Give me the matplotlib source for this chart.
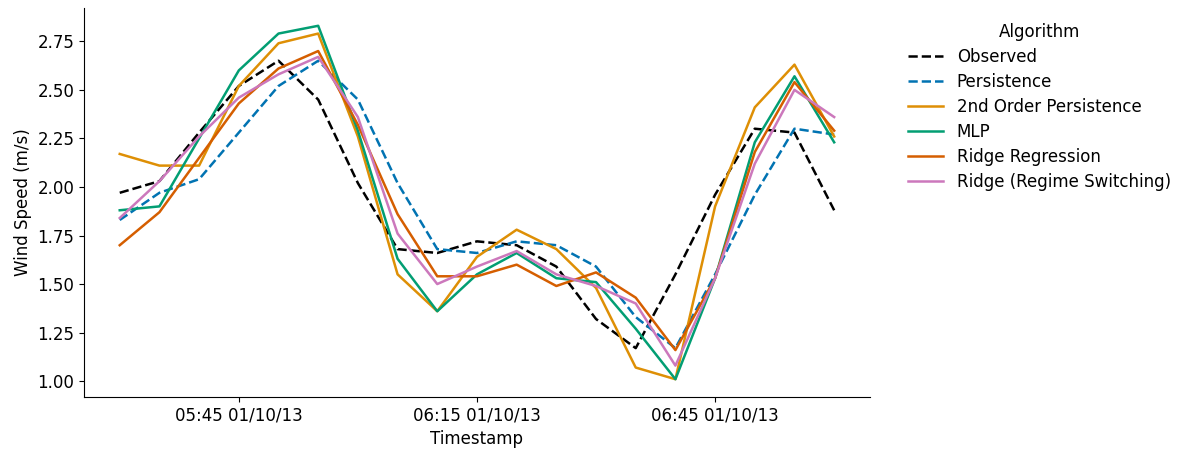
import matplotlib
matplotlib.use("Agg")
import matplotlib.pyplot as plt
import matplotlib.dates as mdates
import numpy as np
import pandas as pd

# czas: co 5 minut, 05:30 - 07:00, 01/10/13
czas = pd.date_range("2013-10-01 05:30", "2013-10-01 07:00", freq="5min")

observed = [1.97, 2.03, 2.28, 2.52, 2.65, 2.45, 2.02, 1.68, 1.66, 1.72,
            1.70, 1.59, 1.32, 1.17, 1.55, 1.96, 2.30, 2.28, 1.88]
persistence = [1.83, 1.97, 2.04, 2.28, 2.52, 2.65, 2.45, 2.02, 1.68, 1.66,
               1.72, 1.70, 1.59, 1.33, 1.17, 1.55, 1.96, 2.30, 2.27]
second_order = [2.17, 2.11, 2.11, 2.52, 2.74, 2.79, 2.26, 1.55, 1.36, 1.64,
                1.78, 1.68, 1.48, 1.07, 1.01, 1.90, 2.41, 2.63, 2.26]
mlp = [1.88, 1.90, 2.25, 2.60, 2.79, 2.83, 2.29, 1.63, 1.36, 1.55,
       1.66, 1.53, 1.51, 1.27, 1.01, 1.53, 2.23, 2.57, 2.23]
ridge = [1.70, 1.87, 2.15, 2.43, 2.61, 2.70, 2.32, 1.86, 1.54, 1.54,
         1.60, 1.49, 1.56, 1.43, 1.16, 1.53, 2.18, 2.54, 2.29]
ridge_rs = [1.84, 2.03, 2.26, 2.46, 2.58, 2.67, 2.36, 1.76, 1.50, 1.59,
            1.67, 1.55, 1.49, 1.40, 1.08, 1.53, 2.12, 2.50, 2.36]

serie = [
    ("Observed", observed, "black", "--"),
    ("Persistence", persistence, "#0173b2", "--"),
    ("2nd Order Persistence", second_order, "#de8f05", "-"),
    ("MLP", mlp, "#029e73", "-"),
    ("Ridge Regression", ridge, "#d55e00", "-"),
    ("Ridge (Regime Switching)", ridge_rs, "#cc78bc", "-"),
]

plt.rcParams["font.family"] = ["DejaVu Sans"]
plt.rcParams["font.size"] = 12

fig = plt.figure(figsize=(11.8, 4.51), dpi=100)
ax = fig.add_axes([0.0712, 0.12, 0.666, 0.862])

for nazwa, wartosci, kolor, styl in serie:
    ax.plot(czas, wartosci, linestyle=styl, color=kolor, lw=1.8, label=nazwa)

ax.xaxis.set_major_locator(mdates.MinuteLocator(byminute=[15, 45]))
ax.xaxis.set_major_formatter(mdates.DateFormatter("%H:%M %d/%m/%y"))
ax.set_yticks([1.00, 1.25, 1.50, 1.75, 2.00, 2.25, 2.50, 2.75])
ax.set_xlabel("Timestamp")
ax.set_ylabel("Wind Speed (m/s)")
ax.spines["top"].set_visible(False)
ax.spines["right"].set_visible(False)

ax.legend(title="Algorithm", loc="upper left", bbox_to_anchor=(1.03, 1.0),
          frameon=False, handlelength=2.1, labelspacing=0.42)

fig.savefig("out.png", dpi=100)
